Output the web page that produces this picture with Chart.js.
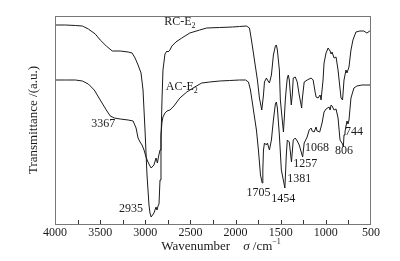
<!DOCTYPE html>
<html>
<head>
<meta charset="utf-8">
<script src="https://cdn.jsdelivr.net/npm/chart.js@4/dist/chart.umd.min.js"></script>
<style>
  html, body { margin: 0; padding: 0; background: #fff; }
  #chart { display: block; }
</style>
</head>
<body>
<canvas id="chart" width="400" height="261"></canvas>
<script>
// RC-E2 spectrum (wavenumber, transmittance a.u.)
const rcWave = [4000, 3884, 3774, 3697, 3631, 3554, 3499, 3432, 3366, 3278, 3190, 3146, 3113, 3080, 3047, 3025, 3003, 2981, 2959, 2948,
  2935, 2904, 2881, 2870, 2859, 2848, 2837, 2826, 2815, 2804, 2782, 2760, 2749, 2727, 2705, 2661, 2595, 2507, 2397, 2320,
  2176, 2033, 1956, 1879, 1846, 1824, 1791, 1758, 1736, 1710, 1691, 1680, 1658, 1647, 1625, 1603, 1581, 1559, 1548, 1537,
  1515, 1504, 1470, 1460, 1449, 1438, 1427, 1416, 1405, 1383, 1372, 1361, 1339, 1317, 1295, 1268, 1262, 1240, 1207, 1163,
  1141, 1119, 1108, 1086, 1064, 1053, 1031, 1020, 998, 975, 953, 942, 931, 909, 887, 865, 832, 815, 799, 777,
  766, 744, 722, 700, 667, 623, 579, 546, 513, 500];
const rcT = [199, 199, 198.5, 198, 195, 190, 184, 178, 173, 173, 172, 171, 166, 159, 151, 134, 94, 49, 19, 11,
  7, 11, 17, 14, 18, 20, 44, 84, 124, 154, 170, 173, 172, 174, 178, 182, 186, 191, 194, 196,
  196.5, 197, 197.5, 198, 196, 184, 164, 144, 126, 114, 129, 142, 146, 144, 141, 149, 169, 178, 179, 174,
  154, 124, 92, 106, 124, 136, 146, 149, 144, 119, 129, 146, 147, 142, 129, 116, 124, 142, 144, 146,
  144, 132, 127, 126, 129, 124, 144, 161, 171, 176, 173, 170, 172, 166, 167, 154, 126, 124, 144, 154,
  151, 157, 174, 184, 192, 193, 193, 191, 193, 193];

// AC-E2 spectrum
const acWave = [4000, 3884, 3774, 3697, 3631, 3565, 3499, 3432, 3388, 3344, 3278, 3190, 3135, 3102, 3080, 3058, 3036, 3014, 2992, 2970,
  2948, 2935, 2904, 2881, 2866, 2852, 2837, 2826, 2815, 2804, 2782, 2760, 2727, 2683, 2617, 2540, 2452, 2375, 2286,
  2176, 2066, 1956, 1890, 1857, 1835, 1802, 1769, 1747, 1724, 1705, 1698, 1691, 1680, 1658, 1647, 1625, 1603, 1581, 1559,
  1548, 1537, 1515, 1493, 1454, 1445, 1438, 1427, 1405, 1381, 1361, 1339, 1317, 1295, 1257, 1240, 1207, 1185, 1163, 1152,
  1130, 1108, 1097, 1068, 1042, 1020, 998, 964, 953, 942, 931, 909, 887, 865, 843, 815, 806, 799, 788, 777,
  766, 755, 744, 722, 689, 656, 601, 546, 500];
const acT = [144, 144, 144, 143, 140, 134, 124, 114, 108, 106, 105, 104, 103, 96, 86, 82, 79, 74, 67, 62,
  58, 56, 59, 66, 61, 68, 74, 89, 102, 107, 111, 113, 114, 118, 126, 132, 137, 141, 142,
  143, 143.5, 144, 144, 142, 134, 114, 94, 74, 49, 41, 54, 74, 81, 79, 81, 74, 84, 104, 120,
  122, 116, 89, 54, 36, 54, 69, 84, 82, 62, 84, 86, 83, 79, 67, 81, 87, 94, 96, 93,
  92, 97, 93, 92, 101, 112, 115, 117, 114, 119, 118, 114, 115, 106, 84, 80, 77, 89, 92, 98,
  103, 100, 104, 126, 136, 138, 139, 139, 139];

const xTicks = [4000, 3500, 3000, 2500, 2000, 1500, 1000, 500];

// peak labels: text, anchor wavenumber, anchor transmittance
const peakText = ['3367', '2935', '1705', '1454', '1381', '1257', '1068', '806', '744'];
const peakWave = [3466, 3157, 1746, 1471, 1295, 1229, 1097, 799, 689];
const peakT = [100, 15, 31, 25, 45, 60, 76, 73, 92];

const seriesNames = ['RC-E', 'AC-E'];
const seriesNameWave = [2617, 2595];
const seriesNameT = [202, 137];

const serif = '"Liberation Serif", "Times New Roman", serif';
const ink = '#1a1a1a';

function pts(w, t) {
    return w.map((v, i) => ({x: v, y: t[i]}));
}

// draws text pieces (with sub/superscripts) centred at (cx, cy)
function drawMixed(c, parts, cx, cy) {
    let total = 0;
    parts.forEach((p) => {
        c.font = p.font;
        p.w = c.measureText(p.text).width;
        total += p.w;
    });
    let x = cx - total / 2;
    parts.forEach((p) => {
        c.font = p.font;
        c.fillText(p.text, x, cy + (p.dy || 0));
        x += p.w;
    });
}

const decor = {
    id: 'decor',
    afterDraw(chart) {
        const c = chart.ctx;
        const a = chart.chartArea;
        const xs = chart.scales.x;
        const ys = chart.scales.y;
        c.save();
        // frame
        c.strokeStyle = '#777';
        c.lineWidth = 1;
        c.strokeRect(Math.round(a.left) + 0.5, Math.round(a.top) + 0.5,
            Math.round(a.right - a.left) - 1, Math.round(a.bottom - a.top));
        // inward ticks every 250
        c.strokeStyle = '#333';
        c.beginPath();
        for (let v = 750; v < 4000; v += 250) {
            const px = Math.round(xs.getPixelForValue(v)) + 0.5;
            c.moveTo(px, a.bottom);
            c.lineTo(px, a.bottom - 4);
        }
        c.stroke();

        c.fillStyle = ink;
        c.textBaseline = 'middle';
        c.textAlign = 'left';
        // peak labels
        for (let i = 0; i < peakText.length; i++) {
            drawMixed(c, [{text: peakText[i], font: '12px ' + serif}],
                xs.getPixelForValue(peakWave[i]), ys.getPixelForValue(peakT[i]));
        }
        // series names
        for (let i = 0; i < seriesNames.length; i++) {
            drawMixed(c, [
                {text: seriesNames[i], font: '12px ' + serif},
                {text: '2', font: '8px ' + serif, dy: 4}
            ], xs.getPixelForValue(seriesNameWave[i]), ys.getPixelForValue(seriesNameT[i]));
        }
        // x title
        drawMixed(c, [
            {text: 'Wavenumber', font: '13px ' + serif},
            {text: '    ', font: '13px ' + serif},
            {text: 'σ', font: 'italic 13px ' + serif},
            {text: ' /cm', font: '13px ' + serif},
            {text: '−1', font: '8px ' + serif, dy: -5}
        ], 221, 247);
        // y title
        c.translate(34, (a.top + a.bottom) / 2);
        c.rotate(-Math.PI / 2);
        drawMixed(c, [{text: 'Transmittance /(a.u.)', font: '13px ' + serif}], 0, 0);
        c.restore();
    }
};

const lineStyle = {
    borderColor: ink,
    backgroundColor: 'transparent',
    borderWidth: 1,
    pointRadius: 0,
    tension: 0,
    fill: false,
};

new Chart(document.getElementById('chart'), {
    type: 'line',
    data: {
        datasets: [
            Object.assign({label: 'RC-E2', data: pts(rcWave, rcT)}, lineStyle),
            Object.assign({label: 'AC-E2', data: pts(acWave, acT)}, lineStyle),
        ]
    },
    options: {
        responsive: false,
        animation: false,
        devicePixelRatio: 1,
        layout: {padding: {top: 16, right: 29, bottom: 0, left: 0}},
        plugins: {legend: {display: false}, tooltip: {enabled: false}},
        scales: {
            x: {
                type: 'linear',
                reverse: true,
                min: 500,
                max: 4000,
                afterBuildTicks: (s) => { s.ticks = xTicks.map((v) => ({value: v})); },
                afterFit: (s) => { s.height = 37; },
                grid: {display: false, drawTicks: false},
                border: {display: false},
                ticks: {font: {family: serif, size: 12}, color: ink, padding: 2, maxRotation: 0,
                    callback: (v) => String(v)},
            },
            y: {
                min: 0,
                max: 208,
                afterFit: (s) => { s.width = 55; },
                grid: {display: false, drawTicks: false},
                border: {display: false},
                ticks: {display: false},
            }
        }
    },
    plugins: [decor]
});
</script>
</body>
</html>
